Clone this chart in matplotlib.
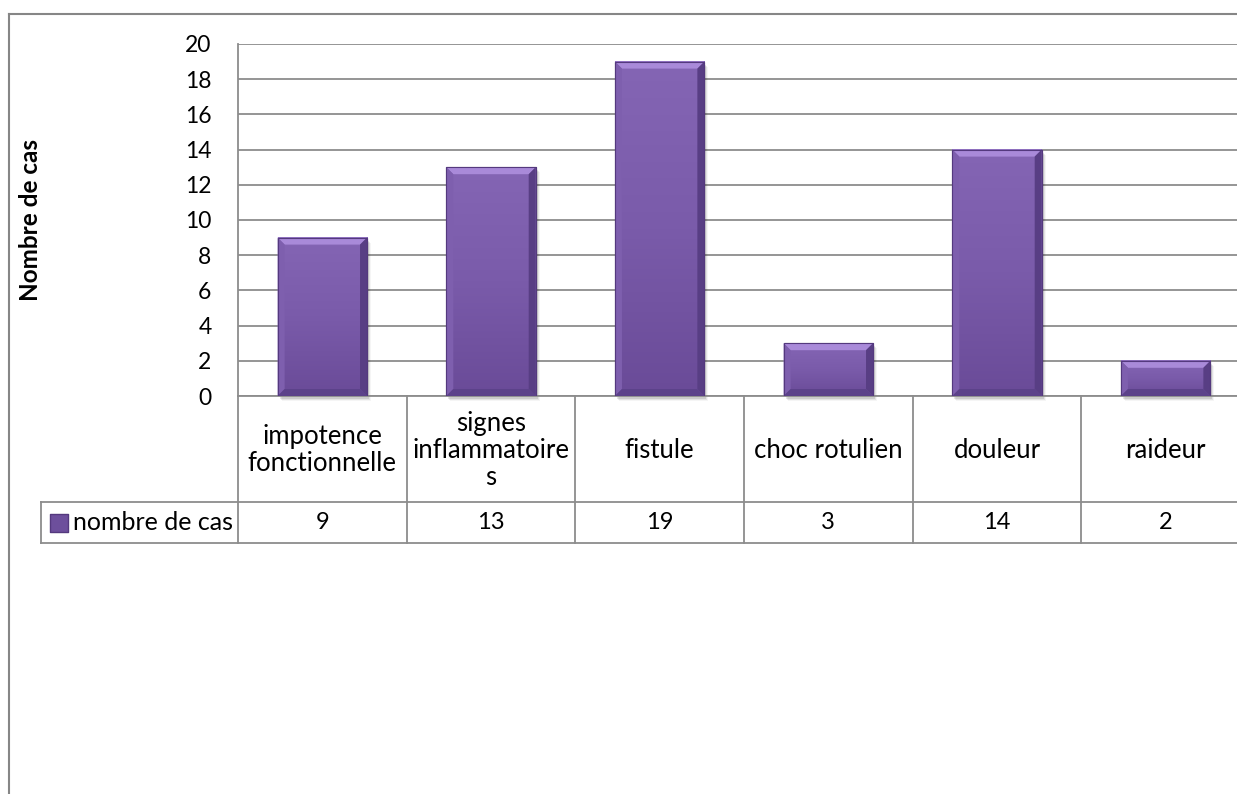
import matplotlib
matplotlib.use('Agg')
import matplotlib.pyplot as plt
import numpy as np
from matplotlib.colors import LinearSegmentedColormap
from matplotlib.patches import Polygon, Rectangle

categories = ['impotence\nfonctionnelle', 'signes\ninflammatoire\ns', 'fistule',
              'choc rotulien', 'douleur', 'raideur']
values = [9, 13, 19, 3, 14, 2]
series_name = 'nombre de cas'
y_label = 'Nombre de cas'
y_ticks = list(range(0, 21, 2))

plt.rcParams['font.family'] = ['Lato', 'DejaVu Sans']
FS_NUM = 16.5
FS_TXT = 18.5
GRID = '#8c8c8c'

W, H = 1237, 794
fig = plt.figure(figsize=(W / 100, H / 100), dpi=100)

# plot area in pixels (left, top, right, bottom)
L, T, R, B = 238, 44, 1250, 396
ax = fig.add_axes([L / W, 1 - B / H, (R - L) / W, (B - T) / H])


def ax_x(px):
    return (px - L) / (R - L)


def ax_y(py):
    return (B - py) / (B - T)


n = len(values)
x = np.arange(n)

# outer chart border
fig.add_artist(plt.Line2D([9 / W, 9 / W], [0, 1 - 14 / H], color='#868686', lw=1.5,
                          transform=fig.transFigure))
fig.add_artist(plt.Line2D([9 / W, 1], [1 - 14 / H, 1 - 14 / H], color='#868686', lw=1.5,
                          transform=fig.transFigure))

ax.set_yticks(y_ticks)
ax.set_yticklabels([str(t) for t in y_ticks], fontsize=FS_NUM)
ax.tick_params(axis='y', length=0, pad=19)
ax.set_xticks([])
ax.grid(axis='y', color=GRID, lw=1.3)
ax.set_axisbelow(True)
for s in ['top', 'right']:
    ax.spines[s].set_visible(False)
ax.spines['left'].set_color(GRID)
ax.spines['left'].set_linewidth(1.3)
ax.spines['bottom'].set_color(GRID)
ax.spines['bottom'].set_linewidth(1.3)
ax.set_ylabel(y_label, fontsize=17.5, fontweight='bold', labelpad=0)
ax.yaxis.set_label_coords(ax_x(42), 0.5)

bar_w = 0.53
bars = ax.bar(x, values, width=bar_w, color='#7657a5', edgecolor='#54397e', lw=0.8, zorder=3)

# pixel -> data conversion for bevel size
px_x = 1 / ((R - L) / n)
px_y = 20 / (B - T)
bx, by = 7 * px_x, 7 * px_y
body = LinearSegmentedColormap.from_list('body', ['#6a4b98', '#7a5baa', '#8465b4'])
grad = np.linspace(0, 1, 100).reshape(-1, 1)

for b in bars:
    x0, y0 = b.get_x(), b.get_y()
    x1, y1 = x0 + b.get_width(), y0 + b.get_height()
    # soft drop shadow
    for k, a in enumerate([0.10, 0.07, 0.04]):
        ax.add_patch(Rectangle((x0 + (2 + k) * px_x, y0 - (3 + k) * px_y), x1 - x0, y1 - y0,
                               color='black', alpha=a, lw=0, zorder=2, clip_on=False))
    ax.imshow(grad, extent=[x0, x1, y0, y1], aspect='auto', cmap=body, origin='lower',
              zorder=3.5)
    ax.add_patch(Polygon([(x0, y1), (x1, y1), (x1 - bx, y1 - by), (x0 + bx, y1 - by)],
                         color='#a98ad9', lw=0, zorder=4))
    ax.add_patch(Polygon([(x0, y0), (x0, y1), (x0 + bx, y1 - by), (x0 + bx, y0 + by)],
                         color='#7e5fae', lw=0, zorder=4))
    ax.add_patch(Polygon([(x1, y0), (x1, y1), (x1 - bx, y1 - by), (x1 - bx, y0 + by)],
                         color='#583e84', lw=0, zorder=4))
    ax.add_patch(Polygon([(x0, y0), (x1, y0), (x1 - bx, y0 + by), (x0 + bx, y0 + by)],
                         color='#5c428a', lw=0, zorder=4))
    ax.add_patch(Rectangle((x0, y0), x1 - x0, y1 - y0, fill=False, ec='#54397e', lw=0.8,
                           zorder=5))

ax.set_xlim(-0.5, n - 0.5)
ax.set_ylim(0, 20)

# data table under the plot
leg_left = 41
row1, row2 = 502, 543
tline = dict(color=GRID, lw=1.3, transform=ax.transAxes, clip_on=False)
for px in [L + j * (R - L) / n for j in range(n + 1)]:
    ax.plot([ax_x(px)] * 2, [ax_y(B), ax_y(row2)], **tline)
for py in [row1, row2]:
    ax.plot([ax_x(leg_left), 1], [ax_y(py)] * 2, **tline)
ax.plot([ax_x(leg_left)] * 2, [ax_y(row1), ax_y(row2)], **tline)

xt = ax.get_xaxis_transform()
for j, cat in enumerate(categories):
    ax.text(j, ax_y(450), cat, ha='center', va='center', fontsize=FS_TXT,
            linespacing=1.1, transform=xt, clip_on=False)
    ax.text(j, ax_y((row1 + row2) / 2), str(values[j]), ha='center', va='center',
            fontsize=FS_NUM + 0.5, transform=xt, clip_on=False)
ax.text(ax_x(73), ax_y((row1 + row2) / 2), series_name, ha='left', va='center',
        fontsize=FS_TXT - 0.5, transform=ax.transAxes, clip_on=False)

# legend key in the table
ax.scatter([ax_x(59)], [ax_y((row1 + row2) / 2)], marker='s', s=150,
           color='#6d4f9c', edgecolor='#54397e', transform=ax.transAxes, clip_on=False,
           zorder=6)

fig.savefig('out.png', dpi=100)
